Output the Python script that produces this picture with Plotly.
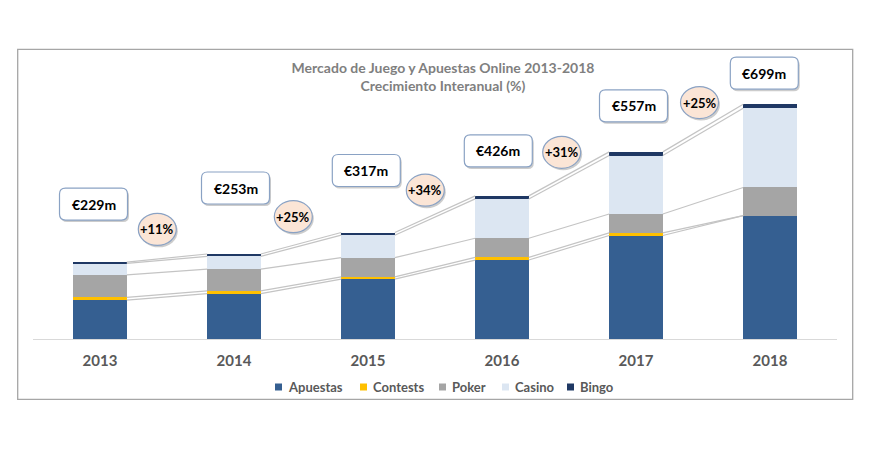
import plotly.graph_objects as go

# ---------------- data ----------------
years = ["2013", "2014", "2015", "2016", "2017", "2018"]
apuestas = [116, 135, 178, 235, 308, 367]
contests = [8, 8, 7, 8, 8, 0]
poker = [67, 65, 57, 57, 56, 84]
casino = [34, 38, 67, 117, 174, 236]
bingo = [4, 7, 8, 9, 11, 12]
total_labels = ["€229m", "€253m", "€317m", "€426m", "€557m", "€699m"]
growth_labels = ["+11%", "+25%", "+34%", "+31%", "+25%"]
series_names = ["Apuestas", "Contests", "Poker", "Casino", "Bingo"]

# ---------------- styles / layout ----------------
colors = ["#355f91", "#ffc000", "#a5a5a5", "#dce6f2", "#1f3864"]
FONT = "Lato"
BAR_W = 0.4
W, H = 871, 455
ML, MR, MT, MB = 33, 34, 40, 116
PW, PH = W - ML - MR, H - MT - MB
YMAX = 890


def px2x(px):
    return (px - ML) / PW


def py2y(py):
    return (H - MB - py) / PH


# label-box offsets (pixels) from bar centre / bar top
box_dx = [-6.5, 1.5, -1.7, -3.7, -2.5, -5.7]
box_dy = [58, 66, 62, 45, 46, 31]
# growth ellipse offsets (pixels) from bar centre / bar top of the previous year
ell_dx = [57.3, 59.3, 57.3, 59.7, 63.5]
ell_dy = [32.7, 37.3, 42.3, 43.6, 49.3]
# legend marker left edges (pixels)
leg_px = [275, 360, 439, 502, 567]
LEG_Y = 387

series = [apuestas, contests, poker, casino, bingo]
xs = list(range(len(years)))
totals = [sum(v[i] for v in series) for i in xs]

fig = go.Figure()

for name, vals, col in zip(series_names, series, colors):
    fig.add_trace(go.Bar(x=xs, y=vals, name=name, width=BAR_W,
                         marker=dict(color=col, line=dict(width=0)),
                         showlegend=False, hoverinfo="skip"))

# series lines between bars
cum = [0] * len(xs)
for vals in series:
    cum = [c + v for c, v in zip(cum, vals)]
    lx, ly = [], []
    for i in range(len(xs) - 1):
        lx += [xs[i] + BAR_W / 2, xs[i + 1] - BAR_W / 2, None]
        ly += [cum[i], cum[i + 1], None]
    fig.add_trace(go.Scatter(x=lx, y=ly, mode="lines",
                             line=dict(color="#c4c4c4", width=1.2),
                             showlegend=False, hoverinfo="skip"))


def rrect(cx, cy, hw, hh, r):
    x0, x1, y0, y1 = cx - hw, cx + hw, cy - hh, cy + hh
    return (f"M{x0+r},{y0} L{x1-r},{y0} Q{x1},{y0} {x1},{y0+r} "
            f"L{x1},{y1-r} Q{x1},{y1} {x1-r},{y1} L{x0+r},{y1} "
            f"Q{x0},{y1} {x0},{y1-r} L{x0},{y0+r} Q{x0},{y0} {x0+r},{y0} Z")


shapes = []
annotations = []
for i in xs:
    cx, cy = box_dx[i], box_dy[i]
    base = dict(type="path", xref="x", yref="y", xsizemode="pixel",
                ysizemode="pixel", xanchor=xs[i], yanchor=totals[i])
    shapes.append(dict(base, path=rrect(cx + 1.5, cy - 2, 34, 16, 6),
                       fillcolor="rgba(110,110,110,0.35)",
                       line=dict(width=0), layer="above"))
    shapes.append(dict(base, path=rrect(cx, cy, 34, 16, 6),
                       fillcolor="white",
                       line=dict(color="#8aa2c4", width=1.2), layer="above"))
    annotations.append(dict(x=xs[i], y=totals[i], xref="x", yref="y",
                            xshift=cx, yshift=cy, text=f"<b>{total_labels[i]}</b>",
                            showarrow=False, font=dict(family=FONT, size=14, color="black")))

for i, g in enumerate(growth_labels):
    cx, cy = ell_dx[i], ell_dy[i]
    base = dict(type="circle", xref="x", yref="y", xsizemode="pixel",
                ysizemode="pixel", xanchor=xs[i], yanchor=totals[i])
    shapes.append(dict(base, x0=cx - 19 + 1.5, x1=cx + 19 + 1.5,
                       y0=cy - 16 - 2, y1=cy + 16 - 2,
                       fillcolor="rgba(110,110,110,0.35)", line=dict(width=0),
                       layer="above"))
    shapes.append(dict(base, x0=cx - 19, x1=cx + 19, y0=cy - 16, y1=cy + 16,
                       fillcolor="#fbe5d6", line=dict(color="#8aa2c4", width=1.2),
                       layer="above"))
    annotations.append(dict(x=xs[i], y=totals[i], xref="x", yref="y",
                            xshift=cx, yshift=cy, text=f"<b>{g}</b>",
                            showarrow=False, font=dict(family=FONT, size=13, color="black")))

# legend (series colours + names)
for name, col, lp in zip(series_names, colors, leg_px):
    shapes.append(dict(type="rect", xref="paper", yref="paper",
                       x0=px2x(lp), x1=px2x(lp + 7),
                       y0=py2y(LEG_Y + 3.5), y1=py2y(LEG_Y - 3.5),
                       fillcolor=col, line=dict(width=0)))
    annotations.append(dict(x=px2x(lp + 11), y=py2y(LEG_Y), xref="paper", yref="paper",
                            xanchor="left", yanchor="middle", showarrow=False,
                            text=f"<b>{name}</b>",
                            font=dict(family=FONT, size=13, color="#595959")))

# outer frame
shapes.append(dict(type="rect", xref="paper", yref="paper",
                   x0=px2x(17.7), x1=px2x(852.7), y0=py2y(399.3), y1=py2y(49.3),
                   line=dict(color="#a6a6a6", width=1.3), fillcolor="rgba(0,0,0,0)",
                   layer="below"))

fig.update_layout(
    width=W, height=H,
    margin=dict(l=ML, r=MR, t=MT, b=MB),
    paper_bgcolor="white", plot_bgcolor="white",
    barmode="stack",
    showlegend=False,
    title=dict(text="<b>Mercado de Juego y Apuestas Online 2013-2018<br>Crecimiento Interanual (%)</b>",
               x=px2x(443), xref="paper", xanchor="center",
               y=1 - 72.5 / H, yref="container", yanchor="middle",
               font=dict(family=FONT, size=14, color="#7f7f7f")),
    xaxis=dict(range=[-0.5, 5.5], tickvals=xs, ticktext=years, showgrid=False,
               zeroline=False, showline=True, linecolor="#d9d9d9", linewidth=1.2,
               ticks="", ticklabelstandoff=8,
               tickfont=dict(family=FONT, size=15, color="#595959", weight="bold")),
    yaxis=dict(range=[0, YMAX], visible=False, showgrid=False, zeroline=False),
    shapes=shapes,
    annotations=annotations,
)

fig.write_html("out.html", config={"displayModeBar": False},
               post_script="document.body.style.margin='0px';")
